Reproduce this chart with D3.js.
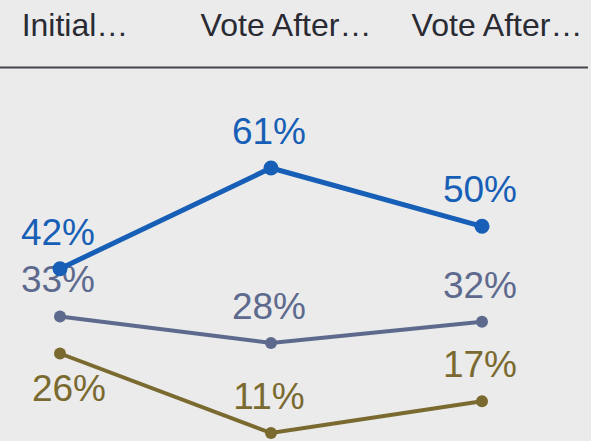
<!DOCTYPE html>
<html>
<head>
<meta charset="utf-8">
<script src="https://cdn.jsdelivr.net/npm/d3@7"></script>
<style>
  html, body { margin: 0; padding: 0; background: #ebebeb; }
  svg { display: block; font-family: "Liberation Sans", Arial, sans-serif; }
</style>
</head>
<body>
<div id="chart"></div>
<script>
// slope chart of vote shares across three rounds

var stages = ["Initial\u2026", "Vote After\u2026", "Vote After\u2026"];
var seriesNames = ["Blue", "Slate", "Olive"];
var blueValues = [42, 61, 50];
var slateValues = [33, 28, 32];
var oliveValues = [26, 11, 17];
// where each value label sits relative to its point
var bluePlace = ["above", "above", "above"];
var slatePlace = ["above", "above", "above"];
var olivePlace = ["below", "above", "above"];

var width = 591,
    height = 441;

var colors = { Blue: "#175fb6", Slate: "#5d6a8e", Olive: "#7a6a30" };
var lineW = { Blue: 5, Slate: 4, Olive: 4 };
var dotR = { Blue: 7.5, Slate: 6, Olive: 6 };

var series = [
  { name: "Olive", values: oliveValues, place: olivePlace },
  { name: "Slate", values: slateValues, place: slatePlace },
  { name: "Blue", values: blueValues, place: bluePlace }
];

var svg = d3.select("#chart").append("svg")
    .attr("width", width)
    .attr("height", height);

svg.append("rect")
    .attr("width", width)
    .attr("height", height)
    .attr("fill", "#ebebeb");

var x = d3.scalePoint()
    .domain(d3.range(stages.length))
    .range([60, 482]);

var y = d3.scaleLinear()
    .domain([11, 61])
    .range([433, 168]);

// header
svg.append("g").selectAll("text")
    .data(stages)
  .enter().append("text")
    .attr("x", function(d, i) { return x(i) + 15; })
    .attr("y", 36)
    .attr("text-anchor", "middle")
    .attr("fill", "#2a2a33")
    .style("font-size", "32px")
    .text(function(d) { return d; });

svg.append("line")
    .attr("x1", 0)
    .attr("x2", 588)
    .attr("y1", 67.5)
    .attr("y2", 67.5)
    .attr("stroke", "#45454d")
    .attr("stroke-width", 2);

var line = d3.line()
    .x(function(d, i) { return x(i); })
    .y(function(d) { return y(d); });

series.forEach(function(s) {
  var g = svg.append("g").attr("class", "series");

  g.selectAll("text")
      .data(s.values)
    .enter().append("text")
      .attr("x", function(d, i) { return x(i) + (s.place[i] == "below" ? 9 : -2); })
      .attr("y", function(d, i) { return y(d) + (s.place[i] == "below" ? 47 : -24); })
      .attr("text-anchor", "middle")
      .attr("fill", colors[s.name])
      .style("font-size", "37px")
      .text(function(d) { return d + "%"; });

  g.append("path")
      .datum(s.values)
      .attr("d", line)
      .attr("fill", "none")
      .attr("stroke", colors[s.name])
      .attr("stroke-width", lineW[s.name]);

  g.selectAll("circle")
      .data(s.values)
    .enter().append("circle")
      .attr("cx", function(d, i) { return x(i); })
      .attr("cy", function(d) { return y(d); })
      .attr("r", dotR[s.name])
      .attr("fill", colors[s.name]);
});
</script>
</body>
</html>
